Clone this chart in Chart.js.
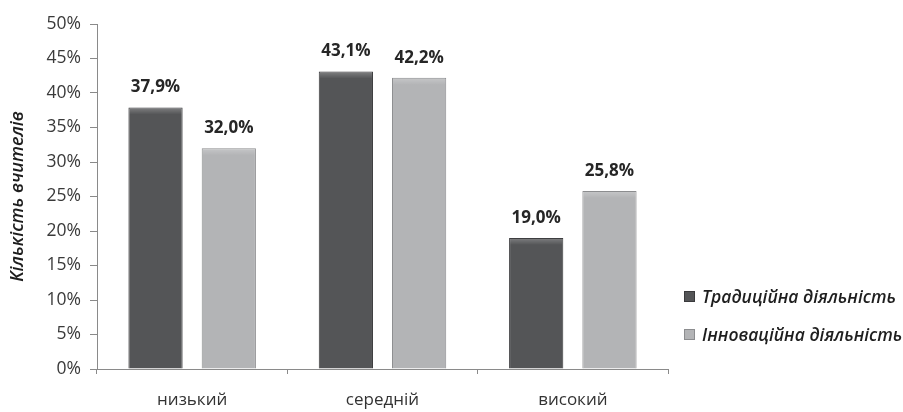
<!DOCTYPE html>
<html>
<head>
<meta charset="utf-8">
<script src="https://cdn.jsdelivr.net/npm/chart.js@4.4.1/dist/chart.umd.min.js"></script>
<style>
  body { margin: 0; background: #fff; }
  #wrap { position: relative; width: 903px; height: 412px; }
  .legend { position: absolute; left: 684px; top: 277px; font: italic 600 17.5px 'Open Sans', sans-serif; color: #1e1e1e; }
  .legend div { height: 38px; display: flex; align-items: center; white-space: nowrap; }
  .legend span.box { display: inline-block; width: 11px; height: 11px; margin-right: 7px; box-sizing: border-box; }
</style>
</head>
<body>
<div id="wrap">
  <canvas id="chart" width="903" height="412"></canvas>
  <div class="legend" id="legend"></div>
</div>
<script>
// chart data
const categories = ['низький', 'середній', 'високий'];
const seriesNames = ['Традиційна діяльність', 'Інноваційна діяльність'];
const traditional = [37.9, 43.1, 19.0];
const innovative = [32.0, 42.2, 25.8];
const yTicks = [0, 5, 10, 15, 20, 25, 30, 35, 40, 45, 50];

const fills = ['#545557', '#b3b4b6'];
const borders = ['#3a3a3c', '#8c8d8f'];
const FONT = "'Open Sans', sans-serif";

// draws the value above each bar, like "37,9%"
const valueLabels = {
    id: 'valueLabels',
    afterDatasetsDraw(chart) {
        const ctx = chart.ctx;
        ctx.save();
        ctx.font = 'bold 17px ' + FONT;
        ctx.fillStyle = '#262626';
        ctx.textAlign = 'center';
        ctx.textBaseline = 'middle';
        chart.data.datasets.forEach((ds, i) => {
            chart.getDatasetMeta(i).data.forEach((bar, j) => {
                const txt = ds.data[j].toFixed(1).replace('.', ',') + '%';
                ctx.fillText(txt, bar.x, bar.y - 20);
            });
        });
        ctx.restore();
    }
};

// soft light top edge on every bar, a bit of the bevel look
const barBevel = {
    id: 'barBevel',
    afterDatasetsDraw(chart) {
        const ctx = chart.ctx;
        ctx.save();
        chart.data.datasets.forEach((ds, i) => {
            chart.getDatasetMeta(i).data.forEach(bar => {
                const w = bar.width;
                const left = bar.x - w / 2;
                const g = ctx.createLinearGradient(0, bar.y + 1, 0, bar.y + 7);
                g.addColorStop(0, 'rgba(255,255,255,0.22)');
                g.addColorStop(1, 'rgba(255,255,255,0)');
                ctx.fillStyle = g;
                ctx.fillRect(left + 1, bar.y + 1, w - 2, 6);
            });
        });
        ctx.restore();
    }
};

const chart = new Chart(document.getElementById('chart'), {
    type: 'bar',
    data: {
        labels: categories,
        datasets: [
            { label: seriesNames[0], data: traditional, backgroundColor: fills[0], borderColor: borders[0], borderWidth: 1 },
            { label: seriesNames[1], data: innovative, backgroundColor: fills[1], borderColor: borders[1], borderWidth: 1 }
        ]
    },
    options: {
        responsive: false,
        animation: false,
        categoryPercentage: 0.77,
        barPercentage: 0.74,
        layout: { padding: { left: 0, top: 24, right: 235, bottom: 0 } },
        plugins: {
            legend: { display: false },
            tooltip: { enabled: false }
        },
        scales: {
            x: {
                grid: { display: true, drawOnChartArea: false, drawTicks: true, tickLength: 5, color: '#8a8a8a' },
                border: { color: '#8a8a8a' },
                ticks: { color: '#333', font: { family: FONT, size: 17 }, padding: 16 },
                afterFit(scale) { scale.height = 43; }
            },
            y: {
                min: 0,
                max: 50,
                afterBuildTicks(scale) { scale.ticks = yTicks.map(v => ({ value: v })); },
                grid: { display: true, drawOnChartArea: false, drawTicks: true, tickLength: 7, color: '#8a8a8a' },
                border: { color: '#8a8a8a' },
                ticks: { color: '#3a3a3a', font: { family: FONT, size: 17.5 }, padding: 9, callback: v => v + '%' },
                title: {
                    display: true,
                    text: 'Кількість вчителів',
                    color: '#1e1e1e',
                    font: { family: FONT, size: 18, style: 'italic', weight: '600' },
                    padding: { top: 7, bottom: 0 }
                },
                afterFit(scale) { scale.width = 97; }
            }
        }
    },
    plugins: [barBevel, valueLabels]
});

// legend built from the dataset names
const legend = document.getElementById('legend');
seriesNames.forEach((name, i) => {
    const row = document.createElement('div');
    row.innerHTML = '<span class="box" style="background:' + fills[i] + ';border:1px solid ' + borders[i] + '"></span>' + name;
    legend.appendChild(row);
});
</script>
</body>
</html>
